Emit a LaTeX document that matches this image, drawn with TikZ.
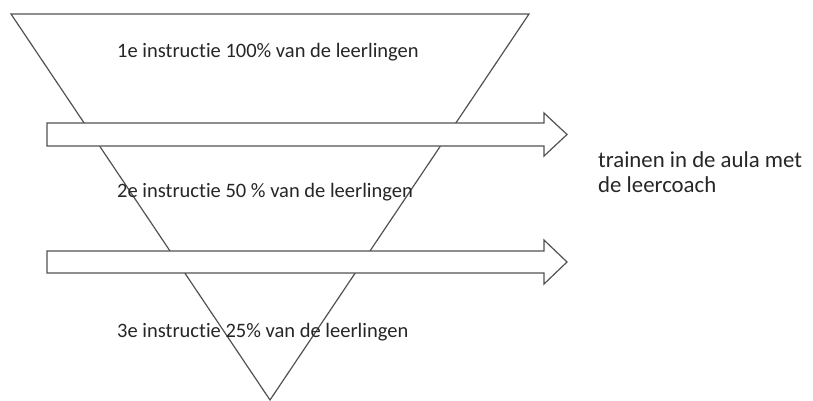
\documentclass[tikz,border=0pt]{standalone}
\usepackage{fontspec}
\setmainfont[RawFeature={-liga;-clig;-dlig;-calt}]{Carlito}
\begin{document}
\begin{tikzpicture}[x=1pt,y=-1pt,
  shapeline/.style={draw=black!68,line width=1.2pt,line join=miter},
  arrowbox/.style={shapeline,fill=white},
  lbl/.style={anchor=base west,inner sep=0pt,text=black!85,font=\fontsize{20.5}{24}\selectfont},
  sidelbl/.style={anchor=base west,inner sep=0pt,text=black!85,font=\fontsize{22.8}{25}\selectfont}]
\useasboundingbox (0,0) rectangle (813,400);
\fill[white] (0,0) rectangle (813,400);
% inverted triangle
\draw[shapeline] (11,14) -- (529,14) -- (270,400) -- cycle;
% arrows
\draw[arrowbox] (47,123) -- (544,123) -- (544,113) -- (567,134.5) -- (544,156) -- (544,146) -- (47,146) -- cycle;
\draw[arrowbox] (47,251) -- (544,251) -- (544,240) -- (567,262) -- (544,284) -- (544,273) -- (47,273) -- cycle;
% labels
\node[lbl] (t1) at (117,57) {1e instructie 100\% van de leerlingen};
\node[lbl] (t2) at (117,197) {2e instructie 50 \% van de leerlingen};
\node[lbl] (t3) at (117,337) {3e instructie 25\% van de leerlingen};
\node[sidelbl] (side1) at (598,167) {trainen in de aula met};
\node[sidelbl] (side2) at (598,192) {de leercoach};
\end{tikzpicture}
\end{document}
